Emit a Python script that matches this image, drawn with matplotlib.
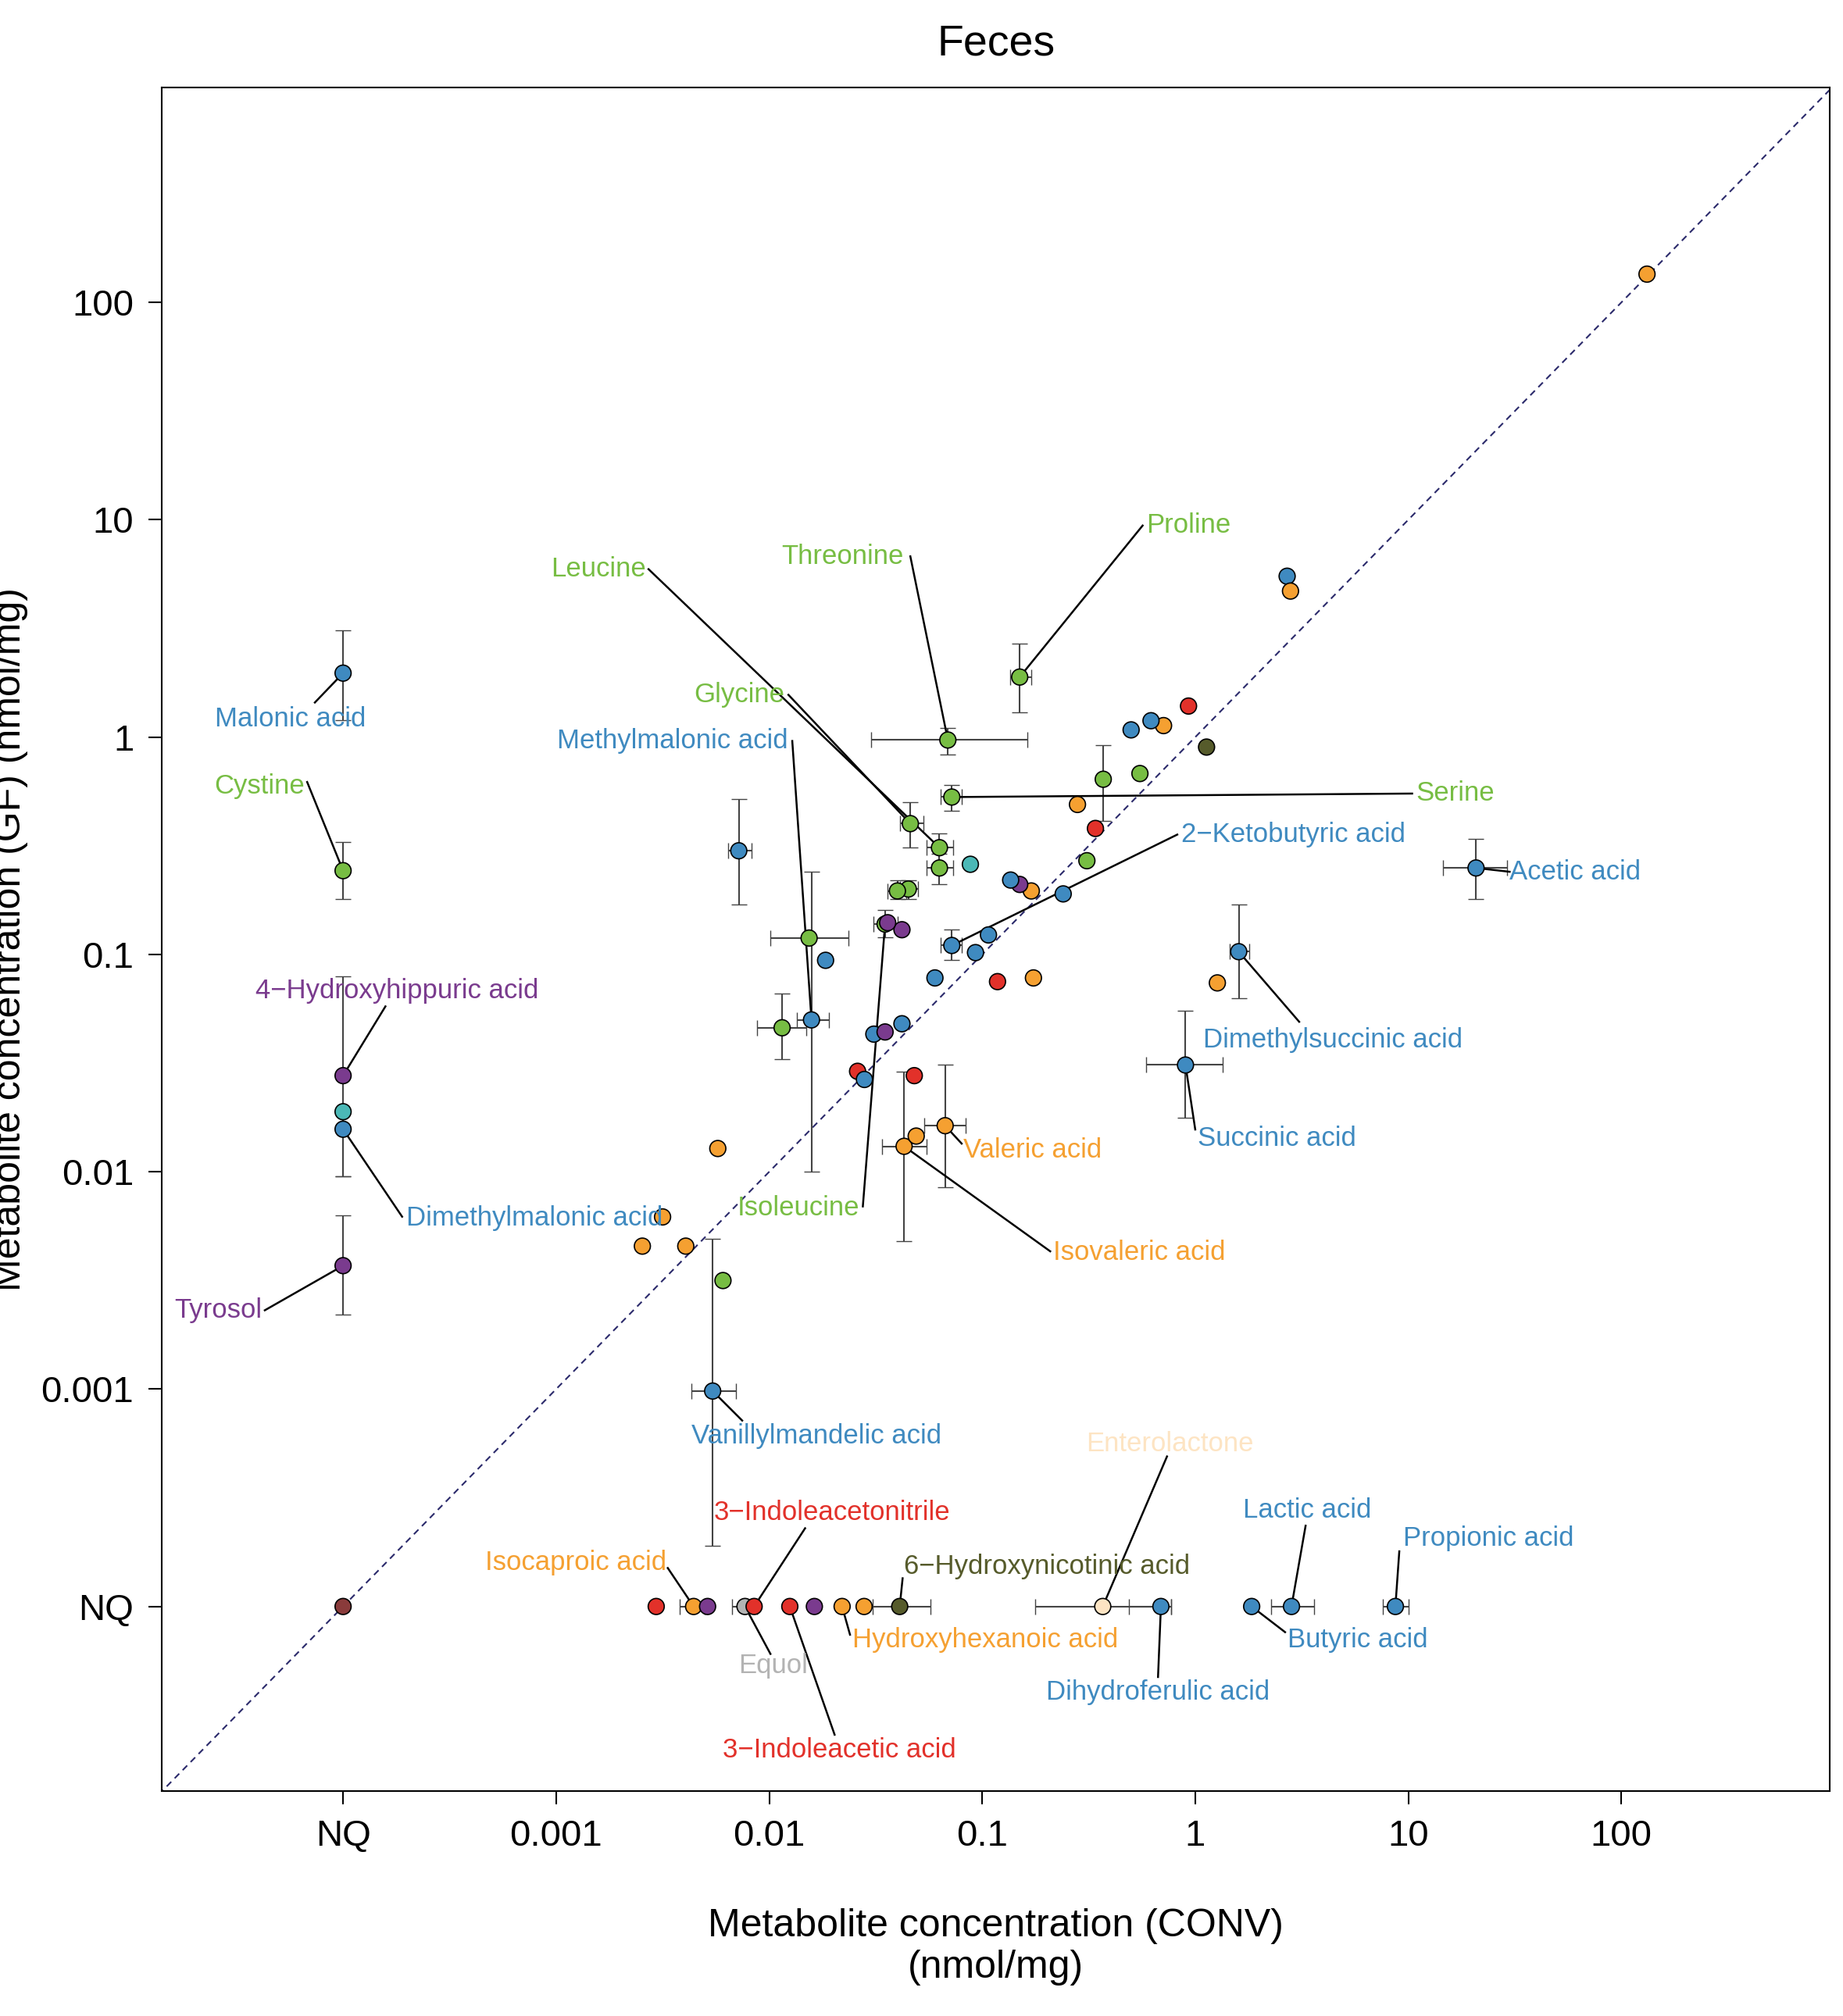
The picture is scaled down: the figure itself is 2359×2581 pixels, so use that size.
import numpy as np
import matplotlib.pyplot as plt

plt.rcParams['font.family'] = ['Liberation Sans', 'DejaVu Sans']

NQ = 1e-4  # not quantified, drawn at this position
nan = np.nan

palette = {'b': '#3f8ac0', 'o': '#f5a031', 'g': '#77bd43', 'r': '#e2312a', 'p': '#7a3b8e',
           't': '#4bb8b6', 'k': '#565b2b', 'e': '#fde4c3', 'q': '#b3b3b3', 'n': '#8a3b3b'}

# name, conv, gf, colour, conv lo, conv hi, gf lo, gf hi
names = ['', '', '', '', '', '', '', '',
         '', '', '', '', '', '', '', '', '', '', 'Leucine_pt', '', 'Serine', 'Threonine', 'Proline', 'Glycine',
         '', '', 'Isoleucine', '', '', '2-Ketobutyric acid', '', '', '', '', '', '', '', '', 'Methylmalonic acid',
         '', '', '', '', '', '', 'Valeric acid', '', 'Isovaleric acid', '', '', '', '', '', '', 'Vanillylmandelic acid',
         'Dimethylsuccinic acid', '', 'Succinic acid', 'Acetic acid',
         'Malonic acid', 'Cystine', '4-Hydroxyhippuric acid', '', 'Dimethylmalonic acid', 'Tyrosol', '',
         '', 'Isocaproic acid', '', 'Equol', '3-Indoleacetonitrile', '3-Indoleacetic acid', '', 'Hydroxyhexanoic acid', '',
         '6-Hydroxynicotinic acid', 'Enterolactone', 'Dihydroferulic acid', 'Butyric acid', 'Lactic acid', 'Propionic acid']
conv = [132, 2.7, 2.8, 0.93, 1.13, 0.71, 0.62, 0.50,
        0.55, 0.37, 0.28, 0.34, 0.31, 0.24, 0.17, 0.15, 0.136, 0.088, 0.063, 0.063, 0.072, 0.069, 0.15, 0.046,
        0.045, 0.040, 0.035, 0.042, 0.036, 0.072, 0.107, 0.093, 0.060, 0.118, 0.174, 0.0184, 0.0154, 0.0072, 0.0158,
        0.0115, 0.042, 0.031, 0.035, 0.026, 0.028, 0.067, 0.048, 0.043, 0.049, 0.00574, 0.00316, 0.00254, 0.00406, 0.00607, 0.00543,
        1.60, 1.27, 0.90, 20.8,
        NQ, NQ, NQ, NQ, NQ, NQ, NQ,
        0.00295, 0.00442, 0.00514, 0.0077, 0.0085, 0.0125, 0.0163, 0.022, 0.0279,
        0.041, 0.368, 0.69, 1.84, 2.83, 8.7]
gf = [135, 5.5, 4.7, 1.39, 0.90, 1.13, 1.19, 1.08,
      0.68, 0.64, 0.49, 0.38, 0.27, 0.19, 0.196, 0.21, 0.22, 0.26, 0.31, 0.25, 0.53, 0.97, 1.89, 0.40,
      0.20, 0.196, 0.138, 0.13, 0.14, 0.11, 0.123, 0.102, 0.078, 0.075, 0.078, 0.094, 0.119, 0.30, 0.050,
      0.046, 0.048, 0.043, 0.044, 0.029, 0.0266, 0.0163, 0.0277, 0.0131, 0.0146, 0.0128, 0.0062, 0.00455, 0.00455, 0.00316, 0.00098,
      0.103, 0.074, 0.031, 0.25,
      1.97, 0.243, 0.0277, 0.0189, 0.0157, 0.0037, NQ,
      NQ, NQ, NQ, NQ, NQ, NQ, NQ, NQ, NQ,
      NQ, NQ, NQ, NQ, NQ, NQ]
cols = ['o', 'b', 'o', 'r', 'k', 'o', 'b', 'b',
        'g', 'g', 'o', 'r', 'g', 'b', 'o', 'p', 'b', 't', 'g', 'g', 'g', 'g', 'g', 'g',
        'g', 'g', 'g', 'p', 'p', 'b', 'b', 'b', 'b', 'r', 'o', 'b', 'g', 'b', 'b',
        'g', 'b', 'b', 'p', 'r', 'b', 'o', 'r', 'o', 'o', 'o', 'o', 'o', 'o', 'g', 'b',
        'b', 'o', 'b', 'b',
        'b', 'g', 'p', 't', 'b', 'p', 'n',
        'r', 'o', 'p', 'q', 'r', 'r', 'p', 'o', 'o',
        'k', 'e', 'b', 'b', 'b', 'b']
n = len(conv)
conv_lo = [nan] * n; conv_hi = [nan] * n; gf_lo = [nan] * n; gf_hi = [nan] * n
errors = {  # index: (conv lo, conv hi, gf lo, gf hi)
    9: (nan, nan, 0.41, 0.92), 18: (0.055, 0.073, 0.26, 0.36), 19: (0.055, 0.073, 0.21, 0.29),
    20: (0.064, 0.080, 0.46, 0.60), 21: (0.030, 0.163, 0.83, 1.10), 22: (0.135, 0.17, 1.3, 2.7),
    23: (0.041, 0.053, 0.31, 0.50), 24: (0.041, 0.050, 0.18, 0.22), 25: (0.036, 0.044, 0.18, 0.22),
    26: (0.031, 0.040, 0.12, 0.16), 29: (0.064, 0.080, 0.094, 0.13), 36: (0.0101, 0.0236, nan, nan),
    37: (0.0064, 0.0083, 0.17, 0.52), 38: (0.0135, 0.019, 0.010, 0.24), 39: (0.0088, 0.0149, 0.033, 0.066),
    45: (0.0535, 0.0837, 0.0085, 0.031), 47: (0.0338, 0.055, 0.0048, 0.029), 54: (0.0043, 0.0070, 0.00019, 0.0049),
    55: (1.45, 1.8, 0.063, 0.17), 57: (0.59, 1.35, 0.0177, 0.055), 58: (14.5, 29, 0.18, 0.34),
    59: (nan, nan, 1.2, 3.1), 60: (nan, nan, 0.18, 0.33), 61: (nan, nan, 0.0095, 0.079),
    63: (nan, nan, 0.0095, 0.0157), 64: (nan, nan, 0.0022, 0.0063),
    67: (0.0038, 0.005, nan, nan), 69: (0.0067, 0.0088, nan, nan), 75: (0.0307, 0.057, nan, nan),
    76: (0.178, 0.77, nan, nan), 77: (0.49, 0.77, nan, nan), 79: (2.27, 3.62, nan, nan), 80: (7.6, 10.0, nan, nan)}
for i, (a, b, c, d) in errors.items():
    conv_lo[i], conv_hi[i], gf_lo[i], gf_hi[i] = a, b, c, d

# label text, text position (reference px), alignment, line start (reference px), target point
labels = [
    ('Malonic acid', (226, 560), 'center', (245, 547), 'Malonic acid', 'b'),
    ('Cystine', (202, 612), 'center', (239, 609), 'Cystine', 'g'),
    ('4\u2212Hydroxyhippuric acid', (309, 772), 'center', (300, 784), '4-Hydroxyhippuric acid', 'p'),
    ('Dimethylmalonic acid', (316, 949), 'left', (313, 948), 'Dimethylmalonic acid', 'b'),
    ('Tyrosol', (204, 1021), 'right', (206, 1021), 'Tyrosol', 'p'),
    ('Leucine', (503, 443), 'right', (505, 443), 'Leucine_pt', 'g'),
    ('Threonine', (656, 433), 'center', (709, 433), 'Threonine', 'g'),
    ('Proline', (893, 409), 'left', (890, 409), 'Proline', 'g'),
    ('Glycine', (576, 541), 'center', (614, 541), 'Glycine', 'g'),
    ('Methylmalonic acid', (524, 577), 'center', (617, 577), 'Methylmalonic acid', 'b'),
    ('Serine', (1103, 618), 'left', (1100, 618), 'Serine', 'g'),
    ('2\u2212Ketobutyric acid', (920, 650), 'left', (917, 650), '2-Ketobutyric acid', 'b'),
    ('Acetic acid', (1176, 679), 'left', (1176, 679), 'Acetic acid', 'b'),
    ('Dimethylsuccinic acid', (937, 810), 'left', (1012, 796), 'Dimethylsuccinic acid', 'b'),
    ('Succinic acid', (933, 887), 'left', (931, 880), 'Succinic acid', 'b'),
    ('Valeric acid', (750, 896), 'left', (749, 891), 'Valeric acid', 'o'),
    ('Isovaleric acid', (820, 976), 'left', (818, 975), 'Isovaleric acid', 'o'),
    ('Isoleucine', (622, 941), 'center', (672, 940), 'Isoleucine', 'g'),
    ('Vanillylmandelic acid', (636, 1119), 'center', (578, 1107), 'Vanillylmandelic acid', 'b'),
    ('Enterolactone', (911, 1125), 'center', (909, 1135), 'Enterolactone', 'e'),
    ('Lactic acid', (1018, 1177), 'center', (1017, 1189), 'Lactic acid', 'b'),
    ('Propionic acid', (1093, 1199), 'left', (1090, 1209), 'Propionic acid', 'b'),
    ('3\u2212Indoleacetonitrile', (648, 1179), 'center', (627, 1191), '3-Indoleacetonitrile', 'r'),
    ('6\u2212Hydroxynicotinic acid', (704, 1221), 'left', (703, 1230), '6-Hydroxynicotinic acid', 'k'),
    ('Isocaproic acid', (519, 1218), 'right', (520, 1222), 'Isocaproic acid', 'o'),
    ('Equol', (602, 1298), 'center', (600, 1289), 'Equol', 'q'),
    ('Hydroxyhexanoic acid', (664, 1278), 'left', (662, 1274), 'Hydroxyhexanoic acid', 'o'),
    ('Butyric acid', (1003, 1278), 'left', (1001, 1272), 'Butyric acid', 'b'),
    ('Dihydroferulic acid', (902, 1319), 'center', (902, 1307), 'Dihydroferulic acid', 'b'),
    ('3\u2212Indoleacetic acid', (654, 1364), 'center', (650, 1352), '3-Indoleacetic acid', 'r'),
]


def ref(px, py):
    # position in the reference picture -> data coordinates
    return 10 ** (-4 + (px - 267) / 166.0), 10 ** (2 - (py - 235) / 169.5)


conv = np.array(conv); gf = np.array(gf)
conv_lo = np.array(conv_lo); conv_hi = np.array(conv_hi)
gf_lo = np.array(gf_lo); gf_hi = np.array(gf_hi)

fig = plt.figure(figsize=(23.59, 25.81), dpi=100)
ax = fig.add_axes([0.0879, 0.1115, 0.9051, 0.8452])
ax.set_xscale('log'); ax.set_yscale('log')
xmin, xmax = 10 ** -4.85, 10 ** 2.98
ymin, ymax = 10 ** -4.85, 10 ** 2.99
ax.set_xlim(xmin, xmax); ax.set_ylim(ymin, ymax)
ax.plot([1e-6, 1e4], [1e-6, 1e4], ls=(0, (4, 3)), color='#2b2a6b', lw=1.5, zorder=1)

for i in range(n):
    if not np.isnan(conv_lo[i]):
        ax.errorbar(conv[i], gf[i], xerr=[[conv[i] - conv_lo[i]], [conv_hi[i] - conv[i]]],
                    fmt='none', ecolor='#444444', elinewidth=1.5, capsize=7, zorder=2)
    if not np.isnan(gf_lo[i]):
        ax.errorbar(conv[i], gf[i], yerr=[[gf[i] - gf_lo[i]], [gf_hi[i] - gf[i]]],
                    fmt='none', ecolor='#444444', elinewidth=1.5, capsize=7, zorder=2)

for text, tpos, ha, lstart, target, c in labels:
    j = names.index(target)
    ax.plot([ref(*lstart)[0], conv[j]], [ref(*lstart)[1], gf[j]], color='black', lw=1.8, zorder=3)
    ax.text(*ref(*tpos), text, ha=ha, va='center', fontsize=25, color=palette[c], zorder=5)

ax.scatter(conv, gf, s=220, c=[palette[c] for c in cols], edgecolors='black', linewidths=1.2, zorder=4)

ticks = [NQ, 1e-3, 1e-2, 0.1, 1, 10, 100]
ticklabels = ['NQ', '0.001', '0.01', '0.1', '1', '10', '100']
ax.set_xticks(ticks); ax.set_xticklabels(ticklabels)
ax.set_yticks(ticks); ax.set_yticklabels(ticklabels)
ax.minorticks_off()
ax.tick_params(labelsize=34, length=12, width=1.5, pad=14)
for s in ax.spines.values():
    s.set_linewidth(1.5)
ax.set_xlabel('Metabolite concentration (CONV)\n(nmol/mg)', fontsize=36, labelpad=50)
ax.set_ylabel('Metabolite concentration (GF) (nmol/mg)', fontsize=36, labelpad=12)
ax.set_title('Feces', fontsize=40, pad=30)

fig.savefig('out.png', dpi=100)
